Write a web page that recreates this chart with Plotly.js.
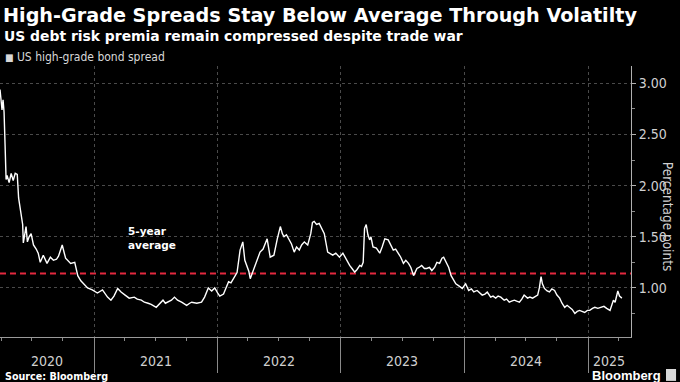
<!DOCTYPE html>
<html><head><meta charset="utf-8">
<script src="https://cdn.plot.ly/plotly-3.0.1.min.js"></script>
<style>html,body{margin:0;padding:0;background:#000;}#chart{width:680px;height:382px;}</style>
</head><body><div id="chart"></div>
<script>
// ---- data ----
const dates = [
'2020-03-29','2020-04-01','2020-04-04','2020-04-07','2020-04-10','2020-04-13','2020-04-16','2020-04-19','2020-04-25','2020-05-01',
'2020-05-07','2020-05-13','2020-05-19','2020-05-23','2020-05-30','2020-06-04','2020-06-06','2020-06-14','2020-06-18','2020-06-23',
'2020-06-29','2020-07-06','2020-07-14','2020-07-20','2020-07-26','2020-08-04','2020-08-15','2020-08-25','2020-09-03','2020-09-12',
'2020-09-18','2020-09-29','2020-10-09','2020-10-18','2020-10-24','2020-11-05','2020-11-14','2020-11-23','2020-12-02','2020-12-13',
'2020-12-27','2021-01-11','2021-01-26','2021-02-10','2021-02-20','2021-03-01','2021-03-12','2021-03-22','2021-04-03','2021-04-15',
'2021-04-30','2021-05-09','2021-05-21','2021-05-30','2021-06-10','2021-06-19','2021-07-04','2021-07-13','2021-07-24','2021-07-31',
'2021-08-08','2021-08-18','2021-08-27','2021-09-05','2021-09-17','2021-10-02','2021-10-11','2021-10-17','2021-11-01','2021-11-15',
'2021-11-24','2021-12-05','2021-12-15','2021-12-24','2022-01-02','2022-01-08','2022-01-19','2022-01-26','2022-02-03','2022-02-10',
'2022-02-18','2022-02-28','2022-03-09','2022-03-17','2022-03-23','2022-03-28','2022-04-04','2022-04-08','2022-04-14','2022-04-22',
'2022-04-28','2022-05-07','2022-05-16','2022-05-22','2022-05-28','2022-06-06','2022-06-17','2022-06-27','2022-07-06','2022-07-12',
'2022-07-17','2022-07-24','2022-08-01','2022-08-08','2022-08-16','2022-08-23','2022-08-31','2022-09-07','2022-09-15','2022-09-25',
'2022-10-04','2022-10-09','2022-10-14','2022-10-21','2022-10-29','2022-11-05','2022-11-13','2022-11-23','2022-12-02','2022-12-08',
'2022-12-17','2022-12-28','2023-01-07','2023-01-16','2023-01-27','2023-02-03','2023-02-11','2023-02-18','2023-02-26','2023-03-03',
'2023-03-08','2023-03-12','2023-03-17','2023-03-22','2023-03-27','2023-03-31','2023-04-06','2023-04-16','2023-04-26','2023-05-03',
'2023-05-11','2023-05-21','2023-05-28','2023-06-05','2023-06-12','2023-06-20','2023-06-27','2023-07-05','2023-07-12','2023-07-20',
'2023-07-27','2023-08-04','2023-08-14','2023-08-20','2023-08-28','2023-09-05','2023-09-12','2023-09-20','2023-09-27','2023-10-05',
'2023-10-12','2023-10-20','2023-10-27','2023-11-01','2023-11-06','2023-11-11','2023-11-16','2023-11-23','2023-12-01','2023-12-07',
'2023-12-16','2023-12-26','2024-01-05','2024-01-10','2024-01-14','2024-01-22','2024-01-29','2024-02-08','2024-02-16','2024-02-23',
'2024-03-02','2024-03-09','2024-03-19','2024-03-26','2024-04-03','2024-04-10','2024-04-18','2024-04-28','2024-05-05','2024-05-13',
'2024-05-20','2024-05-28','2024-06-04','2024-06-12','2024-06-19','2024-06-26','2024-07-06','2024-07-13','2024-07-21','2024-07-29',
'2024-08-05','2024-08-10','2024-08-15','2024-08-19','2024-08-25','2024-09-02','2024-09-09','2024-09-16','2024-09-24','2024-10-01',
'2024-10-09','2024-10-16','2024-10-24','2024-10-31','2024-11-08','2024-11-15','2024-11-23','2024-11-30','2024-12-07','2024-12-15',
'2024-12-22','2024-12-30','2025-01-06','2025-01-14','2025-01-21','2025-01-30','2025-02-10','2025-02-17','2025-02-25','2025-03-07',
'2025-03-13','2025-03-17','2025-03-22','2025-03-30','2025-04-04','2025-04-11'
];
const spread = [
2.94,2.86,2.74,2.84,2.72,2.40,2.06,2.10,2.03,2.12,
2.05,2.12,2.11,1.88,1.73,1.62,1.44,1.60,1.45,1.50,
1.53,1.42,1.38,1.34,1.25,1.32,1.24,1.30,1.27,1.28,
1.31,1.42,1.29,1.26,1.24,1.25,1.12,1.07,1.04,1.00,
0.98,0.95,0.98,0.91,0.88,0.92,0.995,0.96,0.93,0.90,
0.91,0.89,0.88,0.86,0.85,0.84,0.81,0.84,0.88,0.85,
0.86,0.88,0.91,0.88,0.86,0.83,0.85,0.86,0.85,0.86,
0.91,1.00,0.97,1.00,0.95,0.92,0.94,1.00,1.06,1.05,
1.09,1.15,1.37,1.45,1.27,1.22,1.16,1.09,1.14,1.22,
1.26,1.35,1.38,1.44,1.48,1.30,1.32,1.48,1.60,1.53,
1.50,1.52,1.47,1.43,1.35,1.40,1.37,1.42,1.45,1.42,
1.53,1.64,1.65,1.62,1.63,1.58,1.53,1.35,1.33,1.32,
1.34,1.30,1.34,1.28,1.22,1.19,1.155,1.18,1.22,1.21,
1.25,1.58,1.62,1.52,1.47,1.50,1.40,1.39,1.34,1.40,
1.48,1.47,1.42,1.37,1.38,1.34,1.30,1.24,1.27,1.24,
1.20,1.12,1.19,1.20,1.22,1.19,1.19,1.20,1.17,1.20,
1.25,1.24,1.29,1.30,1.27,1.24,1.20,1.12,1.07,1.04,
1.02,0.995,1.04,1.00,0.975,0.99,0.96,0.975,0.95,0.93,
0.94,0.96,0.91,0.92,0.90,0.92,0.91,0.88,0.89,0.86,
0.87,0.88,0.87,0.86,0.89,0.93,0.90,0.91,0.90,0.92,
0.93,1.00,1.11,1.04,0.995,0.97,0.96,0.99,0.975,0.93,
0.90,0.85,0.81,0.83,0.81,0.79,0.75,0.77,0.78,0.77,
0.76,0.78,0.78,0.80,0.81,0.80,0.81,0.82,0.80,0.78,
0.84,0.88,0.86,0.97,0.92,0.90
];
const fiveYearAverage = 1.14;
const seriesName = 'US high-grade bond spread';
const yearBoundaries = ['2021-01-01','2022-01-01','2023-01-01','2024-01-01','2025-01-01'];
const yearLabels = ['2020','2021','2022','2023','2024','2025'];
const yearStarts = ['2020-01-01','2021-01-01','2022-01-01','2023-01-01','2024-01-01','2025-01-01'];
const xRange = ['2020-03-29','2025-05-08'];
const yRange = [0.52, 3.17];
const yTickVals = [1.0, 1.5, 2.0, 2.5, 3.0];
const yTickText = ['1.00', '1.50', '2.00', '2.50', '3.00'];
const titleText = 'High-Grade Spreads Stay Below Average Through Volatilty';
const subtitleText = 'US debt risk premia remain compressed despite trade war';
const sourceText = 'Source: Bloomberg';
const brandText = 'Bloomberg';
const yTitleText = 'Percentage points';
const avgLabel = '5-year<br>average';

// ---- helpers ----
const t = s => new Date(s + 'T00:00:00Z').getTime();
const iso = ms => new Date(ms).toISOString().slice(0, 10);
const r0 = t(xRange[0]), r1 = t(xRange[1]);
const NARROW = 'Liberation Sans Narrow, DejaVu Sans Condensed, sans-serif';
const BOLD = 'DejaVu Sans, sans-serif';

const yearLabelAnn = yearLabels.map((lab, i) => {
  const a = Math.max(r0, t(yearStarts[i]));
  const b = Math.min(r1, i + 1 < yearStarts.length ? t(yearStarts[i + 1]) : Infinity);
  return {
    text: lab, x: iso((a + b) / 2), xref: 'x', y: 0, yref: 'paper',
    yanchor: 'middle', xanchor: 'center', yshift: -24, showarrow: false,
    font: {family: NARROW, size: 14, color: '#d0d0d0'}
  };
});

const traces = [{
  type: 'scatter', mode: 'lines', x: dates, y: spread, name: seriesName,
  line: {color: '#ffffff', width: 1.4}, hoverinfo: 'skip'
}];

const layout = {
  width: 680, height: 382,
  paper_bgcolor: '#000', plot_bgcolor: '#000',
  margin: {l: 0, r: 49, t: 66, b: 45},
  showlegend: false,
  xaxis: {
    type: 'date', range: xRange,
    tickmode: 'array', tickvals: yearBoundaries, showticklabels: false,
    ticks: 'outside', ticklen: 35, tickcolor: '#8a8a8a', tickwidth: 1,
    showgrid: true, gridcolor: '#4a4a4a', griddash: 'dot', gridwidth: 1,
    showline: true, linecolor: '#9a9a9a', linewidth: 1,
    zeroline: false,
    minor: {dtick: 'M3', tick0: '2020-01-01', ticks: 'outside', ticklen: 3, tickcolor: '#8a8a8a', showgrid: false}
  },
  yaxis: {
    side: 'right', range: yRange,
    tickmode: 'array', tickvals: yTickVals, ticktext: yTickText,
    ticks: 'outside', ticklen: 4, tickcolor: '#b0b0b0',
    tickfont: {family: NARROW, size: 14, color: '#d0d0d0'},
    showgrid: true, gridcolor: '#4a4a4a', griddash: 'dot', gridwidth: 1,
    showline: true, linecolor: '#b0b0b0', linewidth: 1,
    zeroline: false,
    minor: {dtick: 0.25, tick0: 0, ticks: 'outside', ticklen: 3, tickcolor: '#8a8a8a', showgrid: false}
  },
  shapes: [
    {type: 'line', xref: 'paper', x0: 0, x1: 1, yref: 'y', y0: fiveYearAverage, y1: fiveYearAverage,
     line: {color: '#e3283f', width: 2, dash: '6px,4px'}, layer: 'below'},
    // small brand icon next to the Bloomberg wordmark
    {type: 'rect', xref: 'paper', yref: 'paper', x0: 1.0555, x1: 1.0714, y0: -0.162, y1: -0.118,
     line: {width: 0}, fillcolor: '#d8d8d8'}
  ],
  annotations: [
    {text: '<b>' + titleText + '</b>', x: 0, xref: 'paper', xanchor: 'left', xshift: 1,
     y: 1, yref: 'paper', yanchor: 'middle', yshift: 51, showarrow: false,
     font: {family: BOLD, size: 19.2, color: '#ffffff'}},
    {text: '<b>' + subtitleText + '</b>', x: 0, xref: 'paper', xanchor: 'left', xshift: 2,
     y: 1, yref: 'paper', yanchor: 'middle', yshift: 30, showarrow: false,
     font: {family: BOLD, size: 13.9, color: '#ffffff'}},
    {text: '<span style="font-size:10px">■</span> ' + seriesName, x: 0, xref: 'paper', xanchor: 'left', xshift: 3,
     y: 1, yref: 'paper', yanchor: 'middle', yshift: 9, showarrow: false,
     font: {family: NARROW, size: 12, color: '#d8d8d8'}},
    {text: '<b>' + avgLabel + '</b>', x: 0.2, xref: 'paper', xanchor: 'left', align: 'left',
     y: 1.49, yref: 'y', yanchor: 'middle', showarrow: false,
     font: {family: BOLD, size: 10.5, color: '#ffffff'}},
    {text: yTitleText, textangle: 90, x: 1, xref: 'paper', xshift: 37, xanchor: 'center',
     y: 0.447, yref: 'paper', yanchor: 'middle', showarrow: false,
     font: {family: NARROW, size: 13.5, color: '#d0d0d0'}},
    {text: '<b>' + sourceText + '</b>', x: 0, xref: 'paper', xanchor: 'left', xshift: 3,
     y: 0, yref: 'paper', yanchor: 'middle', yshift: -39, showarrow: false,
     font: {family: BOLD, size: 9.6, color: '#ffffff'}},
    {text: '<b>' + brandText + '</b>', x: 1, xref: 'paper', xanchor: 'right', xshift: 32,
     y: 0, yref: 'paper', yanchor: 'middle', yshift: -38, showarrow: false,
     font: {family: 'Liberation Sans, sans-serif', size: 13, color: '#ffffff'}}
  ].concat(yearLabelAnn)
};

Plotly.newPlot('chart', traces, layout, {staticPlot: true, displayModeBar: false});
</script>
</body></html>
